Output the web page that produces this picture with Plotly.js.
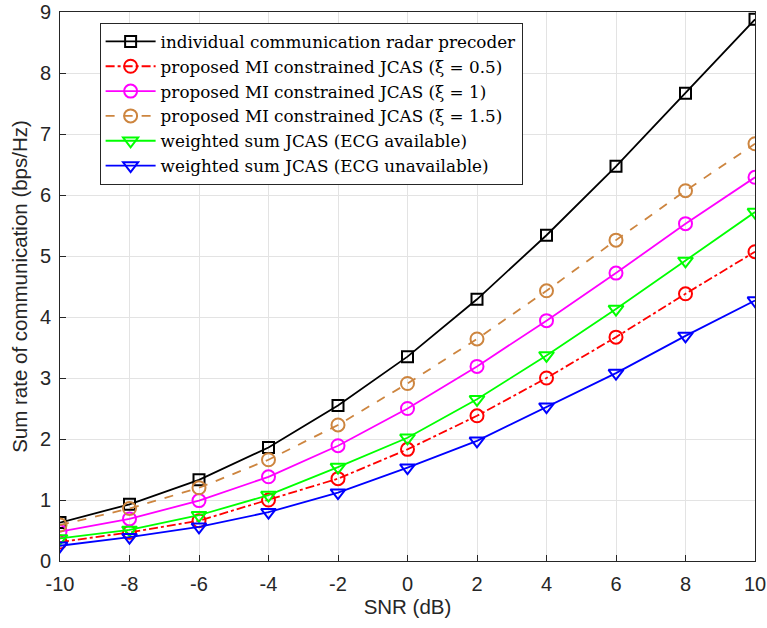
<!DOCTYPE html>
<html><head><meta charset="utf-8">
<script src="https://cdn.plot.ly/plotly-3.0.1.min.js"></script>
<style>html,body{margin:0;padding:0;background:#fff}</style>
</head><body><div id="chart" style="width:767px;height:628px"></div>
<script>
const snr = [-10, -8, -6, -4, -2, 0, 2, 4, 6, 8, 10];
const individual = [0.63, 0.93, 1.33, 1.86, 2.55, 3.35, 4.29, 5.34, 6.47, 7.67, 8.88];
const mi05 = [0.31, 0.47, 0.66, 1.00, 1.35, 1.83, 2.38, 3.00, 3.67, 4.38, 5.07];
const mi1 = [0.48, 0.69, 0.99, 1.38, 1.89, 2.50, 3.19, 3.94, 4.72, 5.53, 6.29];
const mi15 = [0.59, 0.86, 1.20, 1.66, 2.23, 2.91, 3.64, 4.43, 5.26, 6.07, 6.84];
const ecgAvail = [0.37, 0.51, 0.75, 1.08, 1.54, 2.02, 2.65, 3.37, 4.13, 4.92, 5.72];
const ecgUnavail = [0.25, 0.39, 0.56, 0.80, 1.12, 1.53, 1.97, 2.53, 3.08, 3.69, 4.27];
const names = [
  "individual communication radar precoder",
  "proposed MI constrained JCAS (ξ = 0.5)",
  "proposed MI constrained JCAS (ξ = 1)",
  "proposed MI constrained JCAS (ξ = 1.5)",
  "weighted sum JCAS (ECG available)",
  "weighted sum JCAS (ECG unavailable)"
];
const xTicks = [-10, -8, -6, -4, -2, 0, 2, 4, 6, 8, 10];
const yTicks = [0, 1, 2, 3, 4, 5, 6, 7, 8, 9];

const series = [individual, mi05, mi1, mi15, ecgAvail, ecgUnavail];
const colors = ["#000000", "#ff0000", "#ff00ff", "#cd853f", "#00ff00", "#0000ff"];
const dashes = ["solid", "dashdot", "solid", "dash", "solid", "solid"];
const symbols = ["square-open", "circle-open", "circle-open", "circle-open", "triangle-down-open", "triangle-down-open"];
const sizes = [11, 13, 13, 13, 13, 13];

const traces = series.map((y, i) => ({
  x: snr, y: y, name: names[i], type: "scatter", mode: "lines+markers",
  line: {color: colors[i], width: 1.8, dash: dashes[i]},
  marker: {symbol: symbols[i], size: sizes[i], color: colors[i], line: {color: colors[i], width: 2}}
}));

const sans = "Liberation Sans, Arial, sans-serif";
const axisCommon = {
  showline: true, mirror: true, linecolor: "#262626", linewidth: 1,
  ticks: "inside", ticklen: 6, tickcolor: "#262626",
  showgrid: true, gridcolor: "#e3e3e3", gridwidth: 1, zeroline: false,
  tickfont: {family: sans, size: 20, color: "#262626"}
};

const layout = {
  width: 767, height: 628,
  margin: {l: 60, r: 12, t: 12, b: 67},
  paper_bgcolor: "#ffffff", plot_bgcolor: "#ffffff",
  showlegend: true,
  xaxis: Object.assign({}, axisCommon, {
    range: [-10, 10], tickvals: xTicks, ticktext: xTicks.map(String),
    ticklabelstandoff: 5,
    title: {text: "SNR (dB)", font: {family: sans, size: 20.5, color: "#262626"}, standoff: 4}
  }),
  yaxis: Object.assign({}, axisCommon, {
    range: [0, 9], tickvals: yTicks, ticktext: yTicks.map(String),
    ticklabelstandoff: 4,
    title: {text: "Sum rate of communication (bps/Hz)", font: {family: sans, size: 20.5, color: "#262626"}, standoff: 6}
  }),
  legend: {
    x: 0.057, y: 0.98, xanchor: "left", yanchor: "top",
    bgcolor: "#ffffff", bordercolor: "#262626", borderwidth: 1,
    font: {family: "DejaVu Serif, Liberation Serif, serif", size: 16.8, color: "#000000"},
    itemwidth: 50, tracegroupgap: 0
  }
};

Plotly.newPlot("chart", traces, layout, {displayModeBar: false, staticPlot: true});
</script></body></html>
